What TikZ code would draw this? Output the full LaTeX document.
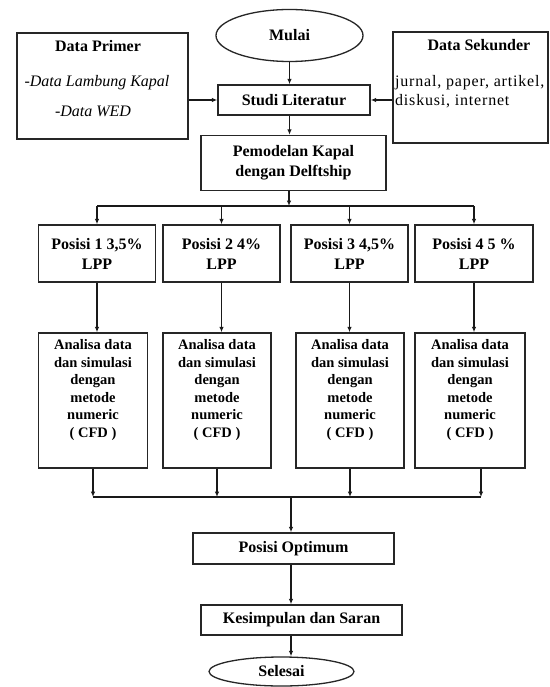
\documentclass[tikz,border=0pt]{standalone}
\usepackage{fontspec}
\setmainfont{Liberation Serif}
\usetikzlibrary{arrows.meta,shapes.geometric,calc}
\tikzset{
  boxs/.style={draw=black!85, line width=1.4pt, inner sep=0pt, align=center,
    font=\bfseries\fontsize{16}{20}\selectfont},
  ovals/.style={ellipse, draw=black!85, line width=1.3pt, inner sep=0pt,
    font=\bfseries\fontsize{16}{19}\selectfont},
  arr/.style={line width=1.3pt, draw=black!90, -{Latex[length=5.5pt,width=4.5pt]}},
  ln/.style={line width=1.3pt, draw=black!90},
  ttl/.style={inner sep=0pt, font=\bfseries\fontsize{16}{19}\selectfont},
  itl/.style={inner sep=0pt, font=\itshape\fontsize{16}{19}\selectfont},
  rgl/.style={inner sep=0pt, anchor=west, font=\fontsize{16}{19}\selectfont\addfontfeature{LetterSpace=5}},
  smalltxt/.style={inner sep=0pt, anchor=north, align=center,
    font=\bfseries\fontsize{14.5}{17.6}\selectfont}
}
\begin{document}
\begin{tikzpicture}[x=1pt,y=-1pt]
\fill[white] (0,0) rectangle (549,687);
\useasboundingbox (0,0) rectangle (549,687);

% top
\node[ovals, minimum width=147pt, minimum height=52pt] (mulai) at (289.5,35.5) {Mulai};
\node[boxs, minimum width=171pt, minimum height=106pt] (dp) at (102.5,86) {};
\node[ttl] (dpt) at (98,46) {Data Primer};
\node[itl] (dpl1) at (97,83) {-Data Lambung Kapal};
\node[itl] (dpl2) at (93,111) {-Data WED};
\node[boxs, minimum width=152pt, minimum height=30pt] (studi) at (294,100) {Studi Literatur};
\node[boxs, minimum width=155pt, minimum height=111pt] (ds) at (470.5,87.5) {};
\node[ttl] (dst) at (479,45) {Data Sekunder};
\node[rgl] (dsl1) at (395,83) {jurnal, paper, artikel,};
\node[rgl] (dsl2) at (395,101) {diskusi, internet};
\node[boxs, minimum width=185pt, minimum height=55pt] (pem) at (293.5,163) {Pemodelan Kapal\\dengan Delftship};

% positions
\node[boxs, minimum width=117.5pt, minimum height=57pt] (p1) at (97,253.5) {Posisi 1 3,5\%\\LPP};
\node[boxs, minimum width=117pt, minimum height=57pt] (p2) at (221.5,253.5) {Posisi 2 4\%\\LPP};
\node[boxs, minimum width=117pt, minimum height=57pt] (p3) at (349.5,253.5) {Posisi 3 4,5\%\\LPP};
\node[boxs, minimum width=118pt, minimum height=57pt] (p4) at (474,253.5) {Posisi 4 5 \%\\LPP};

% analysis boxes
\node[boxs, minimum width=109pt, minimum height=135pt] (a1) at (93,400.5) {};
\node[boxs, minimum width=108pt, minimum height=135pt] (a2) at (217,400.5) {};
\node[boxs, minimum width=108pt, minimum height=135pt] (a3) at (350,400.5) {};
\node[boxs, minimum width=110pt, minimum height=135pt] (a4) at (470,400.5) {};
\foreach \i in {1,2,3,4}{
  \node[smalltxt] (at\i) at ($(a\i.north)+(0,7)$) {Analisa data\\dan simulasi\\dengan\\metode\\numeric\\( CFD )};
}

% bottom
\node[boxs, minimum width=201pt, minimum height=31pt] (opt) at (293.5,548.5) {Posisi Optimum};
\node[boxs, minimum width=201pt, minimum height=30pt] (kes) at (301.5,620) {Kesimpulan dan Saran};
\node[ovals, minimum width=145pt, minimum height=29pt] (sel) at (281.5,671.5) {Selesai};

% connectors top
\draw[arr] (mulai.south) -- (mulai.south |- studi.north);
\draw[arr] (dp.east |- studi.west) -- (studi.west);
\draw[arr] (ds.west |- studi.east) -- (studi.east);
\draw[arr] (mulai.south |- studi.south) -- (mulai.south |- pem.north);

% branch
\coordinate (br) at (289,206);
\draw[arr] (br |- pem.south) -- (br);
\draw[ln] (p1.north |- br) -- (p4.north |- br);
\foreach \i in {1,2,3,4}{
  \draw[arr] (p\i.north |- br) -- (p\i.north);
  \draw[arr] (p\i.south) -- (p\i.south |- a\i.north);
}

% merge
\coordinate (mg) at (291,497);
\coordinate (a4x) at ($(a4.south)+(11,0)$);
\draw[ln] (a1.south |- mg) -- (a4x |- mg);
\draw[arr] (a1.south) -- (a1.south |- mg);
\draw[arr] (a2.south) -- (a2.south |- mg);
\draw[arr] (a3.south) -- (a3.south |- mg);
\draw[arr] (a4x) -- (a4x |- mg);
\draw[arr] (mg) -- (mg |- opt.north);
\draw[arr] (mg |- opt.south) -- (mg |- kes.north);
\draw[arr] (mg |- kes.south) -- (mg |- sel.north);
\end{tikzpicture}
\end{document}
